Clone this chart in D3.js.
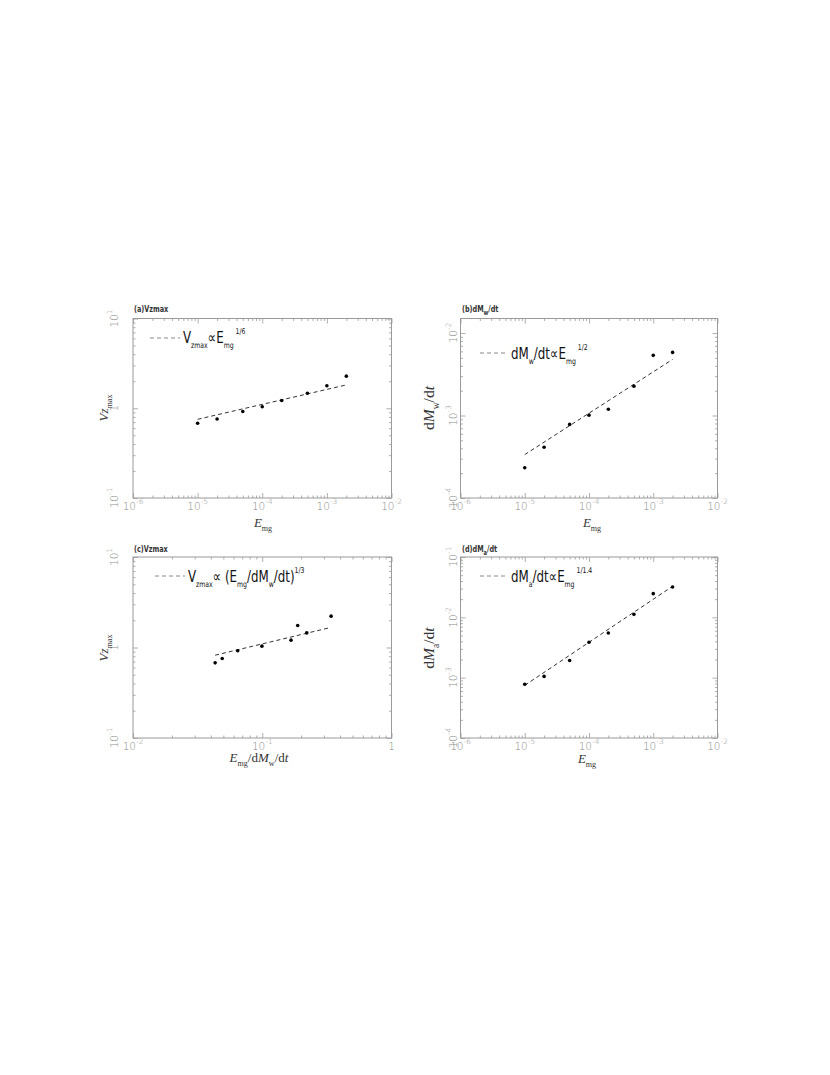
<!DOCTYPE html>
<html>
<head>
<meta charset="utf-8">
<script src="https://cdn.jsdelivr.net/npm/d3@7"></script>
<style>
  body { margin: 0; background: #fff; }
  svg { display: block; }
</style>
</head>
<body>
<svg id="fig" width="830" height="1075"></svg>
<script>
// ---- data ----
const emg = [1e-5, 2e-5, 5e-5, 1e-4, 2e-4, 5e-4, 1e-3, 2e-3];
const vzmaxA = [0.68, 0.76, 0.92, 1.04, 1.22, 1.47, 1.78, 2.28];
const dMwdt = [2.33e-4, 4.12e-4, 7.8e-4, 1.01e-3, 1.19e-3, 2.27e-3, 5.36e-3, 5.82e-3];
const emgPerDMw = [0.0432, 0.049, 0.0646, 0.0994, 0.167, 0.221, 0.188, 0.341];
const vzmaxC = [0.677, 0.756, 0.919, 1.035, 1.205, 1.45, 1.75, 2.22];
const dMadt = [7.76e-4, 1.05e-3, 1.92e-3, 3.86e-3, 5.5e-3, 1.12e-2, 2.47e-2, 3.18e-2];

// fitted power laws (end points of the dashed lines)
const fitXA = [1e-5, 2e-3], fitYA = [0.753, 1.82];
const fitXB = [1e-5, 2e-3], fitYB = [3.36e-4, 4.79e-3];
const fitXC = [0.0432, 0.33], fitYC = [0.822, 1.65];
const fitXD = [1e-5, 2e-3], fitYD = [7.46e-4, 3.27e-2];

// major tick labels
const ticksEmg = [1e-6, 1e-5, 1e-4, 1e-3, 1e-2];
const ticksRatio = [1e-2, 1e-1, 1];
const ticksVz = [1e-1, 1, 10];
const ticksDMw = [1e-4, 1e-3, 1e-2];
const ticksDMa = [1e-4, 1e-3, 1e-2, 1e-1];

const AXIS = "#9a9a9a", TICKTXT = "#8a8a8a", INK = "#222";
const SANS = "'Liberation Sans Narrow', 'DejaVu Sans Condensed', 'Liberation Sans', sans-serif";
const SERIF = "'Liberation Serif', 'DejaVu Serif', serif";
const THIN = "'DejaVu Sans', 'Liberation Sans', sans-serif";

const svg = d3.select("#fig");

// text with sub/superscripts; parts: {t, sub, sup, i}
function rich(sel, parts, size, small) {
  small = small || 0.62;
  const off = lv => lv === 1 ? size * 0.3 : lv === -1 ? -size * 0.55 : 0;
  let level = 0;
  parts.forEach(p => {
    const lv = p.sub ? 1 : p.sup ? -1 : 0;
    sel.append("tspan")
      .attr("dy", off(lv) - off(level))
      .style("font-size", (lv ? size * small : size) + "px")
      .style("font-style", p.i ? "italic" : "normal")
      .text(p.t);
    level = lv;
  });
  return sel;
}

function expLabel(v) {
  if (v === 1) return [{t: "1"}];
  const e = Math.round(Math.log10(v));
  return [{t: "10"}, {t: (e < 0 ? "-" : "") + Math.abs(e), sup: true}];
}

function minorTicks(dom) {
  const out = [];
  for (let e = Math.floor(Math.log10(dom[0])); e <= Math.ceil(Math.log10(dom[1])); e++) {
    for (let k = 2; k <= 9; k++) {
      const v = k * Math.pow(10, e);
      if (v > dom[0] && v < dom[1]) out.push(v);
    }
  }
  return out;
}

const panels = [
  { left: 133, right: 391.5, top: 318.5, bottom: 498,
    xDom: [1e-6, 1e-2], yDom: [0.1, 10], xs: emg, ys: vzmaxA, fx: fitXA, fy: fitYA,
    xTicks: ticksEmg, yTicks: ticksVz, yLabX: 118,
    title: [{t: "(a)Vzmax"}], titleX: 134, titleY: 312,
    leg: [{t: "V"}, {t: "zmax", sub: true}, {t: "\u221d"}, {t: "E"}, {t: "mg", sub: true}, {t: " 1/6", sup: true}],
    legX: [150, 180], legY: 338, legText: [183, 343],
    xl: [{t: "E", i: true}, {t: "mg", sub: true}], xlPos: [263, 527],
    yl: [{t: "Vz", i: true}, {t: "max", sub: true}], ylPos: [108, 408], ylSize: 13 },
  { left: 460.5, right: 717.5, top: 318.5, bottom: 498,
    xDom: [1e-6, 1e-2], yDom: [1e-4, 1.5e-2], xs: emg, ys: dMwdt, fx: fitXB, fy: fitYB,
    xTicks: ticksEmg, yTicks: ticksDMw, yLabX: 457,
    title: [{t: "(b)dM"}, {t: "w", sub: true}, {t: "/dt"}], titleX: 462, titleY: 312,
    leg: [{t: "dM"}, {t: "w", sub: true}, {t: "/dt\u221dE"}, {t: "mg", sub: true}, {t: " 1/2", sup: true}],
    legX: [480, 508], legY: 353, legText: [511, 359],
    xl: [{t: "E", i: true}, {t: "mg", sub: true}], xlPos: [592, 527],
    yl: [{t: "d"}, {t: "M", i: true}, {t: "w", sub: true}, {t: "/d"}, {t: "t", i: true}], ylPos: [434, 408], ylSize: 15.5 },
  { left: 133, right: 391.5, top: 557, bottom: 738,
    xDom: [1e-2, 1], yDom: [0.1, 10], xs: emgPerDMw, ys: vzmaxC, fx: fitXC, fy: fitYC,
    xTicks: ticksRatio, yTicks: ticksVz, yLabX: 118,
    title: [{t: "(c)Vzmax"}], titleX: 134, titleY: 552,
    leg: [{t: "V"}, {t: "zmax", sub: true}, {t: "\u221d (E"}, {t: "mg", sub: true}, {t: "/dM"}, {t: "w", sub: true}, {t: "/dt)"}, {t: "1/3", sup: true}],
    legX: [155, 185], legY: 576, legText: [188, 582],
    xl: [{t: "E", i: true}, {t: "mg", sub: true}, {t: "/d"}, {t: "M", i: true}, {t: "w", sub: true}, {t: "/d"}, {t: "t", i: true}], xlPos: [259, 762],
    yl: [{t: "Vz", i: true}, {t: "max", sub: true}], ylPos: [108, 648], ylSize: 13 },
  { left: 460.5, right: 717.5, top: 557, bottom: 738,
    xDom: [1e-6, 1e-2], yDom: [1e-4, 1e-1], xs: emg, ys: dMadt, fx: fitXD, fy: fitYD,
    xTicks: ticksEmg, yTicks: ticksDMa, yLabX: 457,
    title: [{t: "(d)dM"}, {t: "a", sub: true}, {t: "/dt"}], titleX: 462, titleY: 552,
    leg: [{t: "dM"}, {t: "a", sub: true}, {t: "/dt\u221dE"}, {t: "mg", sub: true}, {t: " 1/1.4", sup: true}],
    legX: [480, 508], legY: 576, legText: [511, 582],
    xl: [{t: "E", i: true}, {t: "mg", sub: true}], xlPos: [587, 763],
    yl: [{t: "d"}, {t: "M", i: true}, {t: "a", sub: true}, {t: "/d"}, {t: "t", i: true}], ylPos: [434, 648], ylSize: 15.5 }
];

panels.forEach(p => {
  const x = d3.scaleLog().domain(p.xDom).range([p.left, p.right]);
  const y = d3.scaleLog().domain(p.yDom).range([p.bottom, p.top]);
  const g = svg.append("g");

  // frame
  g.append("rect")
    .attr("x", p.left).attr("y", p.top)
    .attr("width", p.right - p.left).attr("height", p.bottom - p.top)
    .attr("fill", "none").attr("stroke", AXIS).attr("stroke-width", 1);

  // inward ticks on all four sides
  const sides = [
    [() => d3.axisBottom(x), `translate(0,${p.bottom})`, p.xTicks, minorTicks(p.xDom)],
    [() => d3.axisTop(x), `translate(0,${p.top})`, p.xTicks, minorTicks(p.xDom)],
    [() => d3.axisLeft(y), `translate(${p.left},0)`, p.yTicks, minorTicks(p.yDom)],
    [() => d3.axisRight(y), `translate(${p.right},0)`, p.yTicks, minorTicks(p.yDom)]
  ];
  sides.forEach(([mk, tr, major, minor]) => {
    const a1 = g.append("g").attr("transform", tr)
      .call(mk().tickValues(major).tickSize(-5).tickFormat(""));
    const a2 = g.append("g").attr("transform", tr)
      .call(mk().tickValues(minor).tickSize(-2.5).tickFormat(""));
    [a1, a2].forEach(a => {
      a.select(".domain").remove();
      a.selectAll("line").attr("stroke", AXIS).attr("stroke-width", 0.8);
    });
  });

  // x tick labels
  p.xTicks.forEach(v => {
    rich(g.append("text")
      .attr("x", x(v)).attr("y", p.bottom + 12)
      .attr("text-anchor", "middle")
      .attr("fill", TICKTXT).style("font-family", THIN).style("font-weight", 300), expLabel(v), 10.5, 0.7);
  });
  // y tick labels (rotated)
  p.yTicks.forEach(v => {
    rich(g.append("text")
      .attr("transform", `translate(${p.yLabX},${y(v)}) rotate(-90)`)
      .attr("text-anchor", "middle")
      .attr("fill", TICKTXT).style("font-family", THIN).style("font-weight", 300), expLabel(v), 10.5, 0.7);
  });

  // title
  rich(g.append("text")
    .attr("transform", `translate(${p.titleX},${p.titleY}) scale(0.8,1)`)
    .attr("fill", "#333").style("font-family", SANS).style("font-weight", "bold"), p.title, 9, 0.8);

  // legend
  g.append("line")
    .attr("x1", p.legX[0]).attr("x2", p.legX[1])
    .attr("y1", p.legY).attr("y2", p.legY)
    .attr("stroke", "#888").attr("stroke-width", 1).attr("stroke-dasharray", "4,3");
  rich(g.append("text")
    .attr("transform", `translate(${p.legText[0]},${p.legText[1]}) scale(0.85,1)`)
    .attr("fill", "#111").style("font-family", SANS), p.leg, 15.5, 0.52);

  // axis titles
  rich(g.append("text").attr("x", p.xlPos[0]).attr("y", p.xlPos[1])
    .attr("text-anchor", "middle").attr("fill", "#333").style("font-family", SERIF), p.xl, 13);
  rich(g.append("text")
    .attr("transform", `translate(${p.ylPos[0]},${p.ylPos[1]}) rotate(-90)`)
    .attr("text-anchor", "middle").attr("fill", "#333").style("font-family", SERIF), p.yl, p.ylSize);

  // fitted power law
  const line = d3.line().x(d => x(d[0])).y(d => y(d[1]));
  g.append("path")
    .datum(d3.zip(p.fx, p.fy))
    .attr("d", line)
    .attr("fill", "none").attr("stroke", "#333").attr("stroke-width", 1)
    .attr("stroke-dasharray", "4,3");

  // data points
  g.selectAll("circle.pt")
    .data(d3.zip(p.xs, p.ys))
    .enter().append("circle")
    .attr("class", "pt")
    .attr("cx", d => x(d[0])).attr("cy", d => y(d[1]))
    .attr("r", 1.8).attr("fill", "#000");
});
</script>
</body>
</html>
